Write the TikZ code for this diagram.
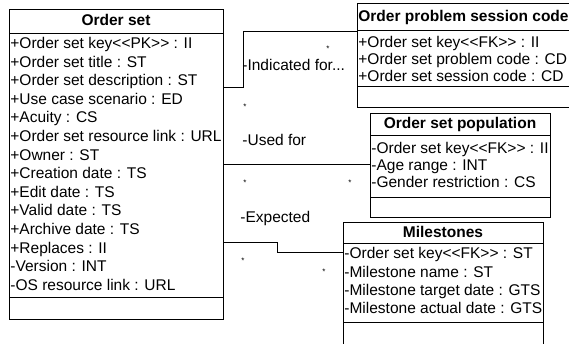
\documentclass[tikz,border=0pt]{standalone}
\usepackage{fontspec}
\setmainfont{Liberation Sans}[Ligatures=TeXOff]
\begin{document}
\begin{tikzpicture}[x=1pt, y=-1pt, line width=0.8pt,
  every node/.style={font=\fontsize{15.5}{18}\selectfont, inner sep=0pt},
  classbox/.style={draw, anchor=north west},
  ctitle/.style={font=\fontsize{15.5}{18}\selectfont\bfseries, text height=11pt, text depth=0pt},
  attr/.style={anchor=west, text height=11pt, text depth=0pt},
  role/.style={anchor=west, text height=11pt, text depth=0pt},
  mult/.style={font=\fontsize{8}{8}\selectfont}]
  \useasboundingbox (0,0) rectangle (569,343);
  \clip (0,0) rectangle (569,343);

  % Order set
  \node[classbox, minimum width=214pt, minimum height=310pt] (os) at (9,9) {};
  \node[ctitle] (os-t) at (116,20) {Order set};
  \draw (9,33) -- (223,33);
  \foreach \t [count=\i from 0] in {+Order set key<<PK>> : II, +Order set title : ST,
      +Order set description : ST, +Use case scenario : ED, +Acuity : CS,
      +Order set resource link : URL, +Owner : ST, +Creation date : TS,
      +Edit date : TS, +Valid date : TS, +Archive date : TS, +Replaces : II,
      -Version : INT, -OS resource link : URL}
    \node[attr] (os-\i) at (10,43+18.6*\i) {\t};
  \draw (9,297) -- (223,297);

  % Order problem session code
  \node[classbox, minimum width=230pt, minimum height=104pt] (ops) at (357,3) {};
  \node[ctitle, anchor=west] (ops-t) at (358,15.5) {Order problem session code};
  \draw (357,30) -- (587,30);
  \foreach \t [count=\i from 0] in {+Order set key<<FK>> : II,
      +Order set problem code : CD, +Order set session code : CD}
    \node[attr] (ops-\i) at (358,42+17.2*\i) {\t};
  \draw (357,86) -- (587,86);

  % Order set population
  \node[classbox, minimum width=180pt, minimum height=104pt] (pop) at (370,113) {};
  \node[ctitle] (pop-t) at (460,123) {Order set population};
  \draw (370,135) -- (550,135);
  \foreach \t [count=\i from 0] in {-Order set key<<FK>> : II, -Age range : INT,
      -Gender restriction : CS}
    \node[attr] (pop-\i) at (371,148+16.8*\i) {\t};
  \draw (370,197) -- (550,197);

  % Milestones
  \node[classbox, minimum width=200pt, minimum height=140pt] (ms) at (343,222) {};
  \node[ctitle] (ms-t) at (443,232) {Milestones};
  \draw (343,243) -- (543,243);
  \foreach \t [count=\i from 0] in {-Order set key<<FK>> : ST, -Milestone name : ST,
      -Milestone target date : GTS, -Milestone actual date : GTS}
    \node[attr] (ms-\i) at (344,253.3+18.3*\i) {\t};
  \draw (343,322) -- (543,322);

  % associations
  \draw (os.east |- 0,87) -| (243,31) -- (ops.west |- 0,31);
  \draw (os.east) -- (os.east -| pop.west);
  \draw (os.east |- 0,242) -- (277,242) |- (ms.west |- 0,252);

  \node[role] (r1) at (242,65) {-Indicated for...};
  \node[role] (r2) at (242,140) {-Used for};
  \node[role] (r3) at (240,217) {-Expected};

  \node[mult] (m1) at (245,107) {*};
  \node[mult] (m2) at (328,49) {*};
  \node[mult] (m3) at (245,183) {*};
  \node[mult] (m4) at (350,183) {*};
  \node[mult] (m5) at (243,261) {*};
  \node[mult] (m6) at (324,272) {*};
\end{tikzpicture}
\end{document}
